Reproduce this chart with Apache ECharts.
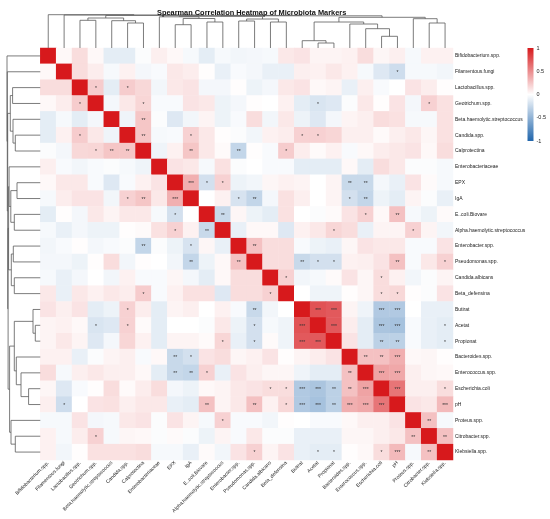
<!DOCTYPE html>
<html>
<head>
<meta charset="utf-8">
<script src="https://cdn.jsdelivr.net/npm/echarts@6/dist/echarts.min.js"></script>
<style>
html,body{margin:0;padding:0;background:#fff;}
#chart{width:550px;height:519px;}
</style>
</head>
<body>
<div id="chart"></div>
<script>
// markers in clustered (display) order
var markers = ['Bifidobacterium.spp.', 'Filamentous.fungi', 'Lactobacillus.spp.', 'Geotrichum.spp.',
  'Beta.haemolytic.streptococcus', 'Candida.spp.', 'Calprotectina', 'Enterobacteriaceae', 'EPX', 'IgA',
  'E..coli.Biovare', 'Alpha.haemolytic.streptococcus', 'Enterobacter.spp.', 'Pseudomonas.spp.',
  'Candida.albicans', 'Beta_defensina', 'Butirat', 'Acetat', 'Propionat', 'Bacteroides.spp.',
  'Enterococcus.spp.', 'Escherichia.coli', 'pH', 'Proteus.spp.', 'Citrobacter.spp.', 'Klebsiella.spp.'];

// lower triangle of the spearman matrix, row i holds columns 0..i-1
var corrLower = [
  [],
  [0.03],
  [0.15, 0.15],
  [0.03, 0.08, 0.22],
  [-0.12, -0.04, -0.12, -0.05],
  [-0.12, 0.06, 0.22, 0.10, -0.07],
  [-0.02, -0.05, 0.17, 0.18, 0.25, 0.25],
  [0.07, -0.03, -0.06, -0.03, -0.02, -0.04, -0.07],
  [0.03, 0.10, 0.10, -0.03, -0.15, -0.03, 0.06, 0.12],
  [-0.04, 0.08, 0.12, 0.12, -0.06, 0.20, 0.25, 0.10, 0.35],
  [-0.12, 0.01, -0.05, 0.10, 0.05, 0.10, 0.10, -0.04, -0.20, 0.00],
  [-0.04, -0.10, -0.05, -0.08, -0.08, 0.01, 0.02, 0.13, 0.20, 0.06, -0.25],
  [-0.06, -0.03, 0.01, -0.05, -0.03, -0.02, -0.27, -0.02, -0.08, -0.18, 0.04, -0.10],
  [-0.05, -0.05, -0.08, 0.01, 0.15, -0.06, 0.01, 0.00, -0.06, -0.27, -0.08, 0.03, 0.27],
  [-0.04, -0.10, -0.05, 0.00, -0.06, 0.06, -0.03, -0.03, 0.04, -0.05, -0.12, 0.03, 0.15, 0.15],
  [0.10, -0.10, 0.10, 0.06, 0.10, 0.08, 0.22, -0.03, 0.06, 0.13, 0.13, -0.15, 0.15, 0.15, 0.20],
  [0.12, 0.07, 0.12, -0.12, -0.08, 0.20, 0.08, -0.12, 0.05, 0.07, 0.00, 0.06, -0.03, -0.25, -0.06, 0.00],
  [0.05, 0.06, 0.03, -0.17, -0.15, 0.20, 0.02, -0.12, 0.00, 0.00, -0.02, 0.10, -0.08, -0.20, -0.04, -0.07, 0.75],
  [0.05, 0.10, 0.05, -0.15, -0.05, 0.18, 0.06, -0.12, 0.05, 0.05, 0.02, 0.18, -0.10, -0.20, 0.02, -0.07, 0.72, 0.72],
  [0.06, 0.06, -0.10, -0.02, 0.05, 0.07, -0.03, 0.03, -0.25, -0.20, 0.12, 0.15, 0.04, 0.06, 0.12, 0.01, 0.05, 0.08, 0.12],
  [0.15, -0.04, 0.07, 0.10, 0.07, 0.07, 0.03, -0.12, -0.25, -0.27, 0.20, -0.10, 0.12, 0.07, 0.04, 0.04, -0.07, -0.12, -0.12, 0.27],
  [0.04, -0.15, -0.03, 0.01, 0.15, 0.02, 0.08, 0.15, -0.05, -0.08, 0.03, 0.05, 0.10, 0.12, 0.15, 0.15, -0.35, -0.38, -0.30, 0.27, 0.40],
  [0.07, -0.22, 0.00, 0.12, 0.13, 0.07, 0.10, 0.10, -0.10, -0.12, 0.27, 0.05, 0.10, 0.27, 0.06, 0.17, -0.35, -0.40, -0.30, 0.35, 0.38, 0.60],
  [-0.04, -0.04, 0.12, -0.05, -0.04, 0.10, 0.12, -0.02, 0.12, 0.05, -0.04, 0.20, -0.03, -0.03, -0.06, 0.01, 0.00, -0.03, -0.03, 0.03, 0.07, 0.07, 0.12],
  [0.06, -0.04, 0.08, 0.20, -0.04, 0.04, 0.03, -0.02, 0.02, -0.02, -0.08, 0.05, -0.03, 0.10, -0.02, -0.02, -0.10, -0.10, -0.10, 0.04, 0.04, 0.07, 0.10, 0.27],
  [0.06, -0.06, 0.01, 0.13, 0.13, 0.13, 0.15, -0.04, -0.04, -0.10, 0.02, -0.06, 0.12, 0.20, 0.05, 0.12, -0.10, -0.12, -0.12, 0.01, 0.03, 0.15, 0.30, -0.04, 0.27]
];

// significance marks, [row, col, stars] with row > col
var starCells = [
  [3, 2, '*'], [5, 2, '*'], [6, 3, '*'], [6, 4, '**'], [6, 5, '**'], [9, 5, '*'], [9, 6, '**'],
  [9, 8, '***'], [10, 8, '*'], [11, 8, '*'], [11, 10, '**'], [12, 6, '**'], [12, 9, '*'],
  [13, 9, '**'], [13, 12, '**'], [15, 6, '*'], [15, 14, '*'], [16, 5, '*'], [16, 13, '**'],
  [17, 3, '*'], [17, 5, '*'], [17, 13, '*'], [17, 16, '***'], [18, 11, '*'], [18, 13, '*'],
  [18, 16, '***'], [18, 17, '***'], [19, 8, '**'], [19, 9, '*'], [20, 8, '**'], [20, 9, '**'],
  [20, 10, '*'], [20, 19, '**'], [21, 14, '*'], [21, 15, '*'], [21, 16, '***'], [21, 17, '***'],
  [21, 18, '**'], [21, 19, '**'], [21, 20, '***'], [22, 1, '*'], [22, 10, '**'], [22, 13, '**'],
  [22, 15, '*'], [22, 16, '***'], [22, 17, '***'], [22, 18, '**'], [22, 19, '***'], [22, 20, '***'],
  [22, 21, '***'], [23, 11, '*'], [24, 3, '*'], [24, 23, '**'], [25, 13, '*'], [25, 17, '*'],
  [25, 18, '*'], [25, 21, '*'], [25, 22, '***'], [25, 24, '**']
];

// hclust tree: [height, left, right], leaves are positions in markers
var dendroTree = [33.3, 0, [33, 1, [32.6, [30, [27.7, 2, 3], [27.3, 4, [25, 5, 6]]],
  [32.2, [31.7, [31.2, 7, [29.5, [23.3, 8, 9], [26, 10, 11]]], [29, [27, 12, 13], [26, 14, 15]]],
    [30.7, [26, [7.3, 16, [5, 17, 18]], [24, 19, [19.3, 20, [11.7, 21, 22]]]], [29.3, 23, [25, 24, 25]]]]]]];

var colorStops = ['#2166ac', '#ffffff', '#d7191c'];

// full symmetric matrix -> heatmap cells
var n = markers.length;
var starMap = {};
starCells.forEach(function (s) {
  starMap[s[0] + '_' + s[1]] = s[2];
  starMap[s[1] + '_' + s[0]] = s[2];
});
var cells = [];
for (var r = 0; r < n; r++) {
  for (var c = 0; c < n; c++) {
    var v = r === c ? 1 : (r > c ? corrLower[r][c] : corrLower[c][r]);
    cells.push([c, r, v]);
  }
}

// dendrogram links from the tree
var links = [];
function walk(node) {
  if (typeof node === 'number') return { pos: node, h: 0 };
  var a = walk(node[1]), b = walk(node[2]);
  links.push([a.pos, a.h, b.pos, b.h, node[0]]);
  return { pos: (a.pos + b.pos) / 2, h: node[0] };
}
walk(dendroTree);

var gridL = 40.3, gridT = 48, gridW = 412.7, gridH = 412;
var lineStyle = { stroke: '#5a5a5a', lineWidth: 0.8, fill: null };

var chart = echarts.init(document.getElementById('chart'));
var option = {
  animation: false,
  textStyle: { fontFamily: 'Liberation Sans, Arial, sans-serif' },
  title: {
    text: 'Spearman Correlation Heatmap of Microbiota Markers',
    left: gridL + gridW / 2, top: 4, textAlign: 'center',
    textStyle: { fontSize: 7.4, fontWeight: 'bold', color: '#111' }
  },
  grid: [
    { left: gridL, top: gridT, width: gridW, height: gridH },
    { left: gridL, top: 13, width: gridW, height: 35 },
    { left: gridL - 35, top: gridT, width: 35, height: gridH },
    { left: 527.5, top: 48, width: 6, height: 93 }
  ],
  xAxis: [
    { type: 'category', data: markers, gridIndex: 0, position: 'bottom',
      axisLine: { show: false }, axisTick: { show: false }, splitLine: { show: false },
      axisLabel: { rotate: 45, fontSize: 5, color: '#222', margin: 2, interval: 0 } },
    { type: 'value', gridIndex: 1, min: -0.5, max: n - 0.5, show: false },
    { type: 'value', gridIndex: 2, min: 0, max: 35, inverse: true, show: false },
    { type: 'value', gridIndex: 3, min: 0, max: 1, show: false }
  ],
  yAxis: [
    { type: 'category', data: markers, gridIndex: 0, inverse: true, position: 'right',
      axisLine: { show: false }, axisTick: { show: false }, splitLine: { show: false },
      axisLabel: { fontSize: 5, color: '#222', margin: 2, interval: 0 } },
    { type: 'value', gridIndex: 1, min: 0, max: 35, show: false },
    { type: 'value', gridIndex: 2, min: -0.5, max: n - 0.5, inverse: true, show: false },
    { type: 'value', gridIndex: 3, min: -1, max: 1, interval: 0.5, position: 'right',
      axisLine: { show: false }, axisTick: { show: false }, splitLine: { show: false },
      axisLabel: { fontSize: 5.5, color: '#222', margin: 3 } }
  ],
  visualMap: {
    show: false, min: -1, max: 1, seriesIndex: 0, dimension: 2,
    inRange: { color: colorStops }
  },
  series: [
    {
      type: 'heatmap', xAxisIndex: 0, yAxisIndex: 0, data: cells, progressive: 0,
      emphasis: { disabled: true },
      label: {
        show: true, fontSize: 5, color: '#333', offset: [0, 1],
        formatter: function (p) { return starMap[p.data[1] + '_' + p.data[0]] || ''; }
      }
    },
    {
      type: 'custom', xAxisIndex: 1, yAxisIndex: 1, data: links, silent: true,
      renderItem: function (params, api) {
        var pa = api.value(0), ha = api.value(1), pb = api.value(2), hb = api.value(3), h = api.value(4);
        return { type: 'polyline', shape: { points: [api.coord([pa, ha]), api.coord([pa, h]), api.coord([pb, h]), api.coord([pb, hb])] }, style: lineStyle };
      }
    },
    {
      type: 'custom', xAxisIndex: 2, yAxisIndex: 2, data: links, silent: true,
      renderItem: function (params, api) {
        var pa = api.value(0), ha = api.value(1), pb = api.value(2), hb = api.value(3), h = api.value(4);
        return { type: 'polyline', shape: { points: [api.coord([ha, pa]), api.coord([h, pa]), api.coord([h, pb]), api.coord([hb, pb])] }, style: lineStyle };
      }
    },
    {
      type: 'custom', xAxisIndex: 3, yAxisIndex: 3, data: [[0, 1]], silent: true,
      renderItem: function (params, api) {
        var tl = api.coord([0, 1]), br = api.coord([1, -1]);
        return {
          type: 'rect',
          shape: { x: tl[0], y: tl[1], width: br[0] - tl[0], height: br[1] - tl[1] },
          style: { fill: new echarts.graphic.LinearGradient(0, 0, 0, 1, [
            { offset: 0, color: colorStops[2] }, { offset: 0.5, color: colorStops[1] }, { offset: 1, color: colorStops[0] }]) }
        };
      }
    }
  ]
};
chart.setOption(option);
</script>
</body>
</html>
